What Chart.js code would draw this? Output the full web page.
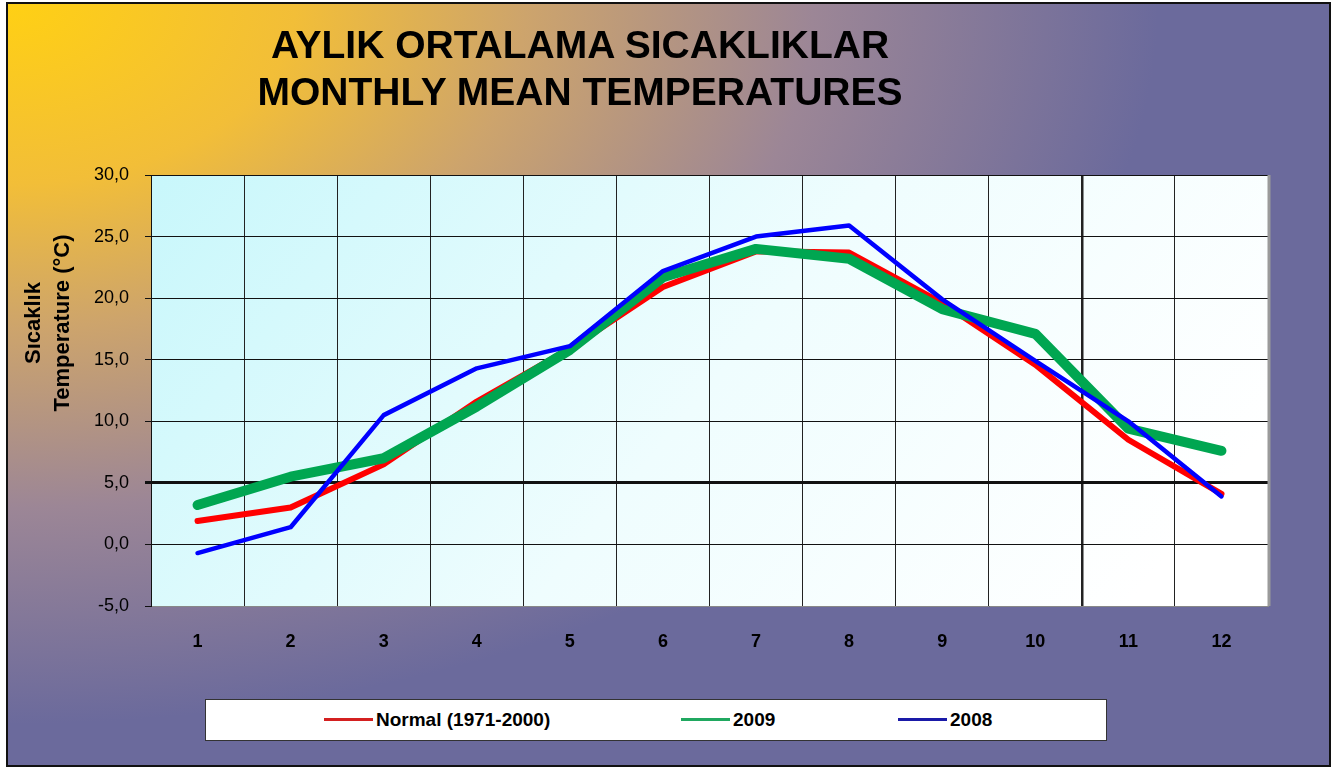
<!DOCTYPE html>
<html>
<head>
<meta charset="utf-8">
<script src="https://cdn.jsdelivr.net/npm/chart.js@4.4.1/dist/chart.umd.min.js"></script>
<style>
  html, body { margin: 0; padding: 0; background: #fff; }
  #frame {
    position: absolute; left: 6px; top: 2px; width: 1325px; height: 765px;
    border: 2px solid #111; box-sizing: border-box;
    background: radial-gradient(ellipse 1150px 720px at 0 0, #ffd014 0%, #f2be38 25%, #cda46c 45%, #9c8696 70%, #6b6a9c 100%);
  }
  #wrap { position: absolute; left: 0; top: 0; width: 1344px; height: 771px; }
  .title {
    position: absolute; left: 230px; width: 700px; text-align: center;
    font: bold 39px "Liberation Sans", Arial, sans-serif; color: #000; white-space: nowrap;
  }
  #ytitle {
    position: absolute; left: 47px; top: 323px; width: 300px; text-align: center;
    transform: translate(-50%, -50%) rotate(-90deg);
    font: bold 22px "Liberation Sans", Arial, sans-serif; line-height: 29px; color: #000;
  }
  #legend {
    position: absolute; left: 205px; top: 699px; width: 902px; height: 42px;
    background: #fff; border: 1.5px solid #333; box-sizing: border-box;
  }
  .item {
    position: absolute; top: 0; height: 39px; display: flex; align-items: center;
    font: bold 19px "Liberation Sans", Arial, sans-serif; color: #000;
  }
  .item span.sw { display: inline-block; width: 49px; height: 2.5px; margin-right: 3px; }
</style>
</head>
<body>
<div id="frame"></div>
<div id="wrap"><canvas id="c"></canvas></div>
<div class="title" style="top:23px">AYLIK ORTALAMA SICAKLIKLAR</div>
<div class="title" style="top:70px">MONTHLY MEAN TEMPERATURES</div>
<div id="ytitle">Sıcaklık<br>Temperature (°C)</div>
<div id="legend"></div>
<script>
// monthly values
var months = ['1', '2', '3', '4', '5', '6', '7', '8', '9', '10', '11', '12'];
var normal = [1.9, 3.0, 6.5, 11.6, 15.9, 20.9, 23.8, 23.7, 19.6, 14.6, 8.5, 4.1];
var y2009 = [3.2, 5.5, 7.0, 11.2, 15.8, 21.7, 24.0, 23.2, 19.1, 17.1, 9.4, 7.6];
var y2008 = [-0.7, 1.4, 10.5, 14.3, 16.1, 22.2, 25.0, 25.9, 19.9, 14.9, 10.0, 3.9];
var seriesNames = ['Normal (1971-2000)', '2009', '2008'];
var legendColors = ['#d42020', '#20a860', '#1a1aa8'];

var plotBg = {
  id: 'plotBg',
  beforeDraw: function (chart) {
    var a = chart.chartArea, ctx = chart.ctx;
    var g = ctx.createLinearGradient(a.left, a.top, a.left + 800, a.top + 650);
    g.addColorStop(0, '#c8f7fb');
    g.addColorStop(0.55, '#effdfe');
    g.addColorStop(1, '#ffffff');
    ctx.save();
    ctx.fillStyle = g;
    ctx.fillRect(a.left, a.top, a.right - a.left, a.bottom - a.top);
    ctx.restore();
  },
  afterDraw: function (chart) {
    // grey right edge of the plot
    var a = chart.chartArea, ctx = chart.ctx;
    ctx.save();
    ctx.strokeStyle = '#9a9a9a';
    ctx.lineWidth = 3;
    ctx.beginPath(); ctx.moveTo(a.right + 1, a.top); ctx.lineTo(a.right + 1, a.bottom); ctx.stroke();
    ctx.restore();
  }
};

var chart = new Chart(document.getElementById('c'), {
  type: 'line',
  data: {
    labels: months,
    datasets: [
      { label: seriesNames[0], data: normal, borderColor: '#ff0000', borderWidth: 6, order: 3 },
      { label: seriesNames[1], data: y2009, borderColor: '#00a651', borderWidth: 10, order: 2 },
      { label: seriesNames[2], data: y2008, borderColor: '#0000ff', borderWidth: 4.5, order: 1 },
    ].map(function (d) {
      return Object.assign({ pointRadius: 0, tension: 0, fill: false, borderCapStyle: 'round', borderJoinStyle: 'round' }, d);
    }),
  },
  options: {
    responsive: true, maintainAspectRatio: false, animation: false,
    layout: { padding: { top: 175, right: 76, bottom: 105, left: 0 } },
    plugins: { legend: { display: false }, tooltip: { enabled: false } },
    scales: {
      x: {
        offset: true,
        grid: {
          offset: true, drawTicks: false,
          color: function (c) { return c.index === 12 ? '#9a9a9a' : '#222'; },
          lineWidth: function (c) { return c.index === 10 ? 2.5 : 1; },
        },
        border: { color: '#888', width: 1 },
        ticks: { color: '#000', padding: 25, font: { family: 'Liberation Sans', size: 18, weight: 'bold' } },
        afterFit: function (s) { s.height = 60; },
      },
      y: {
        min: -5, max: 30,
        grid: {
          color: '#111', tickLength: 6,
          lineWidth: function (c) { return c.tick && c.tick.value === 5 ? 3 : 1; },
        },
        border: { color: '#111', width: 1 },
        ticks: {
          stepSize: 5, color: '#000', padding: 16,
          font: { family: 'Liberation Sans', size: 18 },
          callback: function (v) { return v.toFixed(1).replace('.', ','); },
        },
        afterFit: function (s) { s.width = 151; },
      },
    },
  },
  plugins: [plotBg],
});

// html legend built from the datasets
var legendX = [118, 475, 692];
var leg = document.getElementById('legend');
chart.data.datasets.forEach(function (d, i) {
  var el = document.createElement('div');
  el.className = 'item';
  el.style.left = legendX[i] + 'px';
  el.innerHTML = '<span class="sw" style="background:' + legendColors[i] + '"></span>' + d.label;
  leg.appendChild(el);
});
</script>
</body>
</html>
